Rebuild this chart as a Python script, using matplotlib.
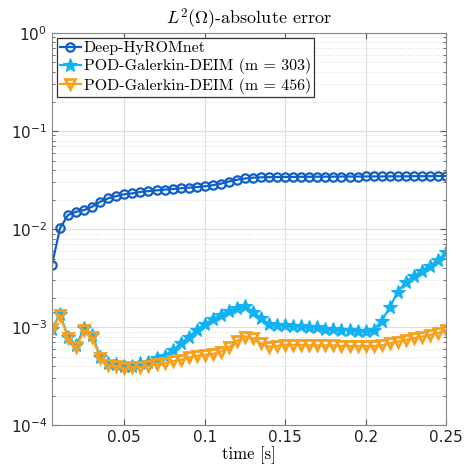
import numpy as np
from matplotlib import pyplot as plt
from matplotlib.font_manager import FontProperties
from matplotlib.ticker import LogLocator, NullFormatter

# time instants
t = [0.005 * (i + 1) for i in range(50)]

deep = [0.0043, 0.0102, 0.0139, 0.0150, 0.0156, 0.0169, 0.0190, 0.0206, 0.0217, 0.0226,
        0.0231, 0.0239, 0.0244, 0.0248, 0.0252, 0.0256, 0.0260, 0.0264, 0.0268, 0.0273,
        0.0280, 0.0290, 0.0305, 0.0318, 0.0328, 0.0334, 0.0337, 0.0338, 0.0339, 0.0340,
        0.0340, 0.0341, 0.0341, 0.0342, 0.0342, 0.0342, 0.0343, 0.0343, 0.0343, 0.0344,
        0.0344, 0.0344, 0.0345, 0.0345, 0.0345, 0.0346, 0.0346, 0.0346, 0.0347, 0.0347]

pod303 = [9.6e-4, 1.35e-3, 8.0e-4, 6.5e-4, 9.7e-4, 8.3e-4, 5.0e-4, 4.3e-4, 4.2e-4, 4.0e-4,
          4.0e-4, 4.3e-4, 4.4e-4, 4.8e-4, 5.1e-4, 5.8e-4, 6.8e-4, 7.9e-4, 9.3e-4, 1.07e-3,
          1.20e-3, 1.32e-3, 1.47e-3, 1.55e-3, 1.64e-3, 1.43e-3, 1.23e-3, 1.07e-3, 1.05e-3, 1.05e-3,
          1.03e-3, 1.03e-3, 1.01e-3, 1.0e-3, 9.6e-4, 9.5e-4, 9.4e-4, 9.3e-4, 9.2e-4, 9.1e-4,
          9.4e-4, 1.16e-3, 1.59e-3, 2.29e-3, 2.9e-3, 3.3e-3, 3.76e-3, 4.2e-3, 4.8e-3, 5.8e-3]

pod456 = [9.5e-4, 1.32e-3, 7.7e-4, 6.2e-4, 9.3e-4, 7.9e-4, 4.8e-4, 4.1e-4, 4.0e-4, 3.8e-4,
          3.9e-4, 3.9e-4, 4.0e-4, 4.2e-4, 4.3e-4, 4.5e-4, 4.6e-4, 4.9e-4, 5.1e-4, 5.2e-4,
          5.3e-4, 5.6e-4, 6.2e-4, 7.2e-4, 8.0e-4, 7.7e-4, 6.8e-4, 6.3e-4, 6.4e-4, 6.6e-4,
          6.6e-4, 6.6e-4, 6.5e-4, 6.5e-4, 6.5e-4, 6.5e-4, 6.4e-4, 6.4e-4, 6.4e-4, 6.4e-4,
          6.4e-4, 6.5e-4, 6.8e-4, 7.1e-4, 7.4e-4, 7.7e-4, 8.0e-4, 8.3e-4, 8.7e-4, 9.3e-4]

labels = ['Deep-HyROMnet', 'POD-Galerkin-DEIM (m = 303)', 'POD-Galerkin-DEIM (m = 456)']

fig = plt.figure(figsize=(4.7, 4.76), dpi=100)
ax = fig.add_axes([0.1106, 0.107, 0.8384, 0.8237])

ax.plot(t, deep, '-o', color='#0f5fc8', lw=1.6, ms=6, mfc='none', mew=1.6, label=labels[0])
ax.plot(t, pod303, '-*', color='#12b2f2', lw=1.6, ms=10.5, mew=0.8, label=labels[1])
ax.plot(t, pod456, '-v', color='#f7a01c', lw=1.6, ms=7, mfc='none', mew=2, label=labels[2])

ax.set_yscale('log')
ax.set_ylim(1e-4, 1)
ax.set_xlim(0.005, 0.25)
ax.set_xticks([0.05, 0.1, 0.15, 0.2, 0.25])
ax.set_xticklabels(['0.05', '0.1', '0.15', '0.2', '0.25'])
ax.yaxis.set_minor_locator(LogLocator(base=10, subs=np.arange(2, 10)))
ax.yaxis.set_minor_formatter(NullFormatter())

ax.grid(True, which='major', color='#dddddd', lw=0.8)
ax.grid(True, which='minor', axis='y', color='#dddddd', lw=0.7, ls=':')
ax.set_axisbelow(True)
ax.tick_params(which='both', direction='in', top=True, right=True, colors='#555555',
               labelcolor='#222222', labelsize=11)
ax.tick_params(which='major', length=4)
ax.tick_params(which='minor', length=2)
for s in ax.spines.values():
    s.set_color('#888888')

ax.set_title(r'$L^2(\Omega)$-absolute error', fontfamily='cmr10', math_fontfamily='cm',
             fontsize=13, pad=6)
ax.set_xlabel('time [s]', fontfamily='cmr10', fontsize=12, labelpad=1)

leg = ax.legend(loc='upper left', prop=FontProperties(family='cmr10', size=11.5),
                fancybox=False, framealpha=1, edgecolor='#333333', handlelength=1.3,
                handletextpad=0.2, labelspacing=0.2, borderpad=0.2, borderaxespad=0.3)
leg.get_frame().set_linewidth(0.9)

fig.savefig('out.png', dpi=100)
